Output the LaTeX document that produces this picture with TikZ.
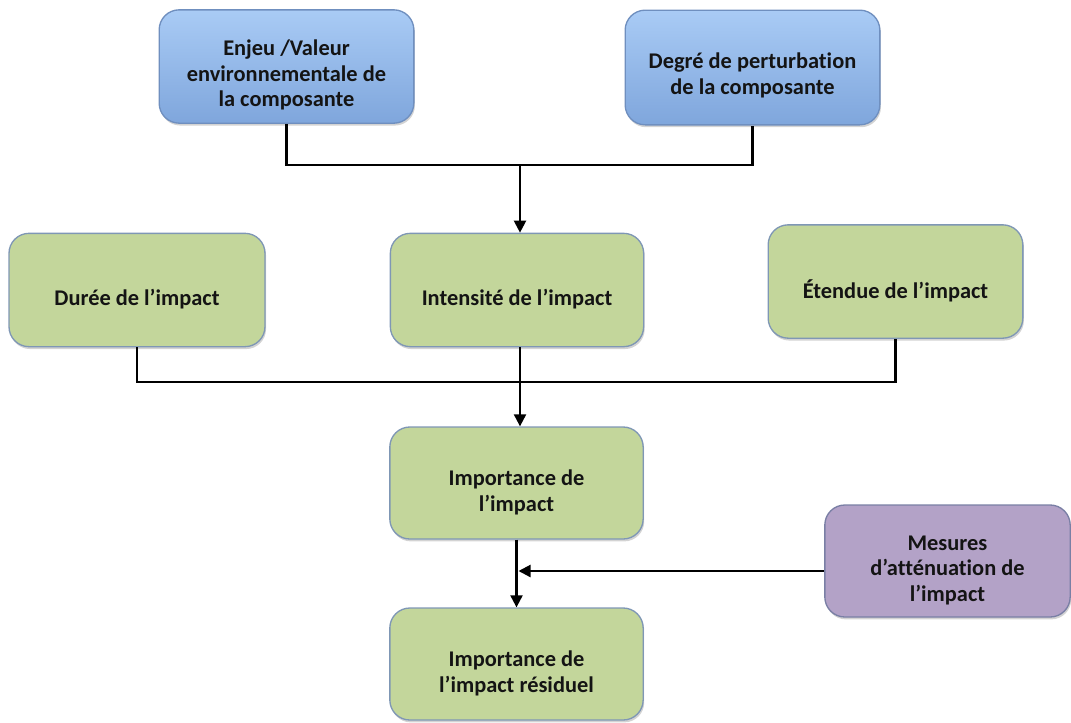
\documentclass[tikz,border=0pt]{standalone}
\usepackage{fontspec}
\setmainfont{Carlito}[Ligatures=NoCommon]
\usetikzlibrary{arrows.meta,shadows}
\definecolor{bluetop}{HTML}{A9CBF5}
\definecolor{bluebot}{HTML}{7FA6DC}
\definecolor{blueline}{HTML}{6F8FBF}
\definecolor{greenfill}{HTML}{C3D69B}
\definecolor{greenline}{HTML}{7F97B5}
\definecolor{purplefill}{HTML}{B3A2C7}
\definecolor{purpleline}{HTML}{7A7FA5}
\definecolor{txt}{HTML}{141414}
\tikzset{
  box/.style={rounded corners=15pt, line width=1pt, inner sep=0pt,
    drop shadow={shadow xshift=0.8pt, shadow yshift=-1.8pt, opacity=0.35, fill=gray}},
  bluebox/.style={box, draw=blueline, top color=bluetop, bottom color=bluebot},
  greenbox/.style={box, draw=greenline, fill=greenfill},
  purplebox/.style={box, draw=purpleline, fill=purplefill},
  label text/.style={align=center, font=\fontsize{16.8}{19.2}\selectfont\bfseries,
    text=txt, inner sep=0pt},
  conn/.style={line width=1.6pt, black},
  arr/.style={conn, -{Triangle[width=9pt,length=9pt]}}
}
\begin{document}
\begin{tikzpicture}[x=0.75pt,y=-0.75pt]
\useasboundingbox (0,0) rectangle (1071,722);
% boxes
\node[bluebox, minimum width=191pt, minimum height=85pt] (enjeu) at (286.5,66.5) {};
\node[bluebox, minimum width=191pt, minimum height=86pt] (degre) at (752.5,67.5) {};
\node[greenbox, minimum width=192pt, minimum height=85pt] (duree) at (137,290) {};
\node[greenbox, minimum width=190pt, minimum height=85pt] (intens) at (517,290) {};
\node[greenbox, minimum width=191pt, minimum height=85pt] (etendue) at (895.5,281.5) {};
\node[greenbox, minimum width=190pt, minimum height=84pt] (import) at (516.5,483) {};
\node[greenbox, minimum width=190pt, minimum height=84pt] (resid) at (516.5,664) {};
\node[purplebox, minimum width=184pt, minimum height=84pt] (mesures) at (947.5,561) {};
% texts
\node[label text] (enjeuT) at ([yshift=-6.5pt]enjeu.center)
  {Enjeu /Valeur\\environnementale de\\la composante};
\node[label text] (degreT) at ([yshift=-6pt]degre.center)
  {Degré de perturbation\\de la composante};
\node[label text] (dureeT) at ([yshift=-7pt]duree.center) {Durée de l’impact};
\node[label text] (intensT) at ([yshift=-7pt]intens.center) {Intensité de l’impact};
\node[label text] (etendueT) at ([yshift=-7pt]etendue.center) {Étendue de l’impact};
\node[label text] (importT) at ([yshift=-7pt]import.center) {Importance de\\l’impact};
\node[label text] (residT) at ([yshift=-7pt]resid.center) {Importance de\\l’impact résiduel};
\node[label text] (mesuresT) at ([yshift=-7pt]mesures.center)
  {Mesures\\d’atténuation de\\l’impact};
% top junction
\coordinate (j1) at (520,165);
\draw[conn] (enjeu.south) -- (enjeu.south |- j1) -- (degre.south |- j1) -- (degre.south);
\draw[arr] (j1) -- (j1 |- intens.north);
% middle junction
\coordinate (j2) at (520,382);
\draw[conn] (duree.south) -- (duree.south |- j2) -- (etendue.south |- j2) -- (etendue.south);
\draw[conn] (j2 |- intens.south) -- (j2);
\draw[arr] (j2) -- (j2 |- import.north);
% bottom
\coordinate (j3) at (516.5,571);
\draw[arr] (import.south) -- (resid.north);
\draw[arr] (mesures.west |- j3) -- ([xshift=1.5pt]j3);
\end{tikzpicture}
\end{document}
